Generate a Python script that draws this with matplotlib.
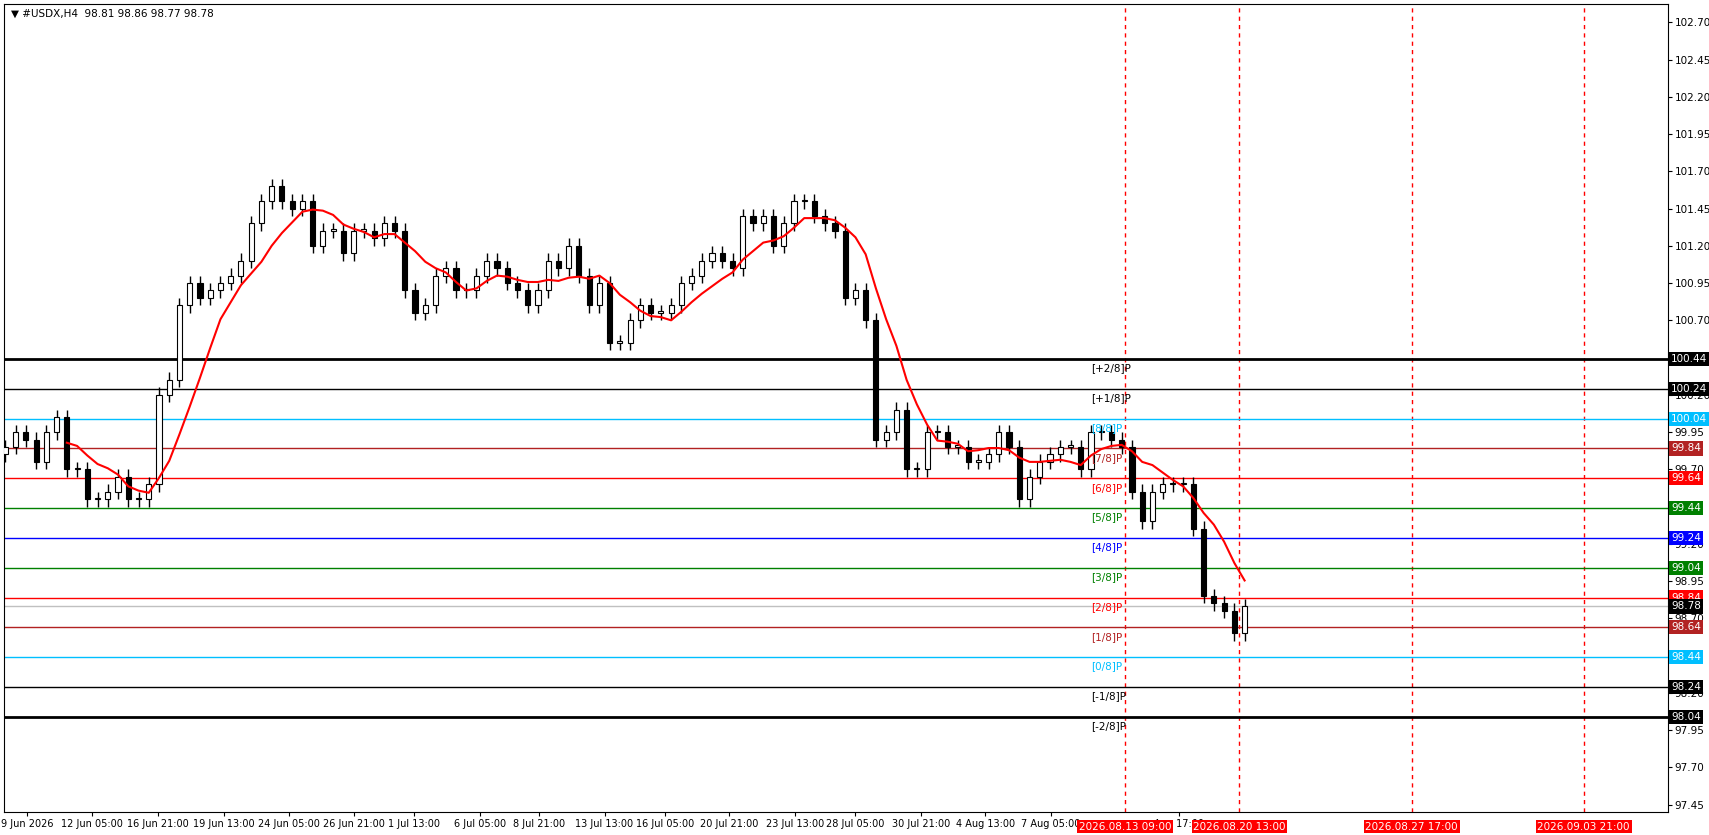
import matplotlib
matplotlib.use("Agg")
import matplotlib.pyplot as plt
import numpy as np

closes = [99.85,99.95,99.9,99.75,99.95,100.05,99.7,99.7,99.5,99.5,99.55,99.65,99.5,99.5,99.6,
          100.2,100.3,100.8,100.95,100.85,100.9,100.95,101.0,101.1,101.35,101.5,101.6,101.5,101.45,101.5,
          101.2,101.3,101.3,101.15,101.3,101.3,101.25,101.35,101.3,100.9,100.75,100.8,101.0,101.05,100.9,
          100.9,101.0,101.1,101.05,100.95,100.9,100.8,100.9,101.1,101.05,101.2,101.0,100.8,100.95,100.55,
          100.55,100.7,100.8,100.75,100.75,100.8,100.95,101.0,101.1,101.15,101.1,101.05,101.4,101.35,101.4,
          101.2,101.35,101.5,101.5,101.4,101.35,101.3,100.85,100.9,100.7,99.9,99.95,100.1,99.7,99.7,
          99.95,99.95,99.85,99.85,99.75,99.75,99.8,99.95,99.85,99.5,99.65,99.75,99.8,99.85,99.85,
          99.7,99.95,99.95,99.9,99.85,99.55,99.35,99.55,99.6,99.6,99.6,99.3,98.85,98.8,98.75,98.6,98.78]
wick = 0.05
levels = [100.44,100.24,100.04,99.84,99.64,99.44,99.24,99.04,98.84,98.64,98.44,98.24,98.04]
level_names = ["[+2/8]P","[+1/8]P","[8/8]P","[7/8]P","[6/8]P","[5/8]P","[4/8]P","[3/8]P",
               "[2/8]P","[1/8]P","[0/8]P","[-1/8]P","[-2/8]P"]
level_colors = ["black","black","#00BFFF","#B22222","red","green","blue","green",
                "red","#B22222","#00BFFF","black","black"]
level_widths = [2,1,1,1,1,1,1,1,1,1,1,1,2]
date_labels = ["9 Jun 2026","12 Jun 05:00","16 Jun 21:00","19 Jun 13:00","24 Jun 05:00","26 Jun 21:00",
               "1 Jul 13:00","6 Jul 05:00","8 Jul 21:00","13 Jul 13:00","16 Jul 05:00","20 Jul 21:00",
               "23 Jul 13:00","28 Jul 05:00","30 Jul 21:00","4 Aug 13:00","7 Aug 05:00","Aug 17:00"]
date_pos = [2.1,8.5,14.9,21.3,27.7,34.0,39.9,46.3,52.1,58.5,64.4,70.7,77.1,83.0,89.4,95.7,102.1,114.6]
vlines = [109.3,120.5,137.3,154.1]
vline_labels = ["2026.08.13 09:00","2026.08.20 13:00","2026.08.27 17:00","2026.09.03 21:00"]
last_price = 98.78

W, H = 1568, 766
fig = plt.figure(figsize=(17.09,8.35), dpi=100)
ax = fig.add_axes([4/W, 1-745/H, 1526/W, 741/H])
c = np.array(closes)
o = np.concatenate([[c[0]-0.05], c[:-1]])
x = np.arange(len(c))
for i in x:
    hi = max(o[i], c[i]) + wick
    lo = min(o[i], c[i]) - wick
    ax.vlines(i, lo, hi, color="black", lw=1, zorder=3)
    b = min(o[i], c[i]); h = max(abs(c[i]-o[i]), 0.01)
    fc = "white" if c[i] >= o[i] else "black"
    ax.add_patch(plt.Rectangle((i-0.25, b), 0.5, h, facecolor=fc, edgecolor="black", lw=0.8, zorder=4))
ma = np.convolve(c, np.ones(7)/7, mode="valid")
ax.plot(x[6:], ma, color="red", lw=1.5, zorder=5)

fs = 7.5
for lv, nm, col, lw in zip(levels, level_names, level_colors, level_widths):
    ax.axhline(lv, color=col, lw=lw, zorder=2)
    ax.text(106.0, lv-0.03, nm, color=col, fontsize=fs, va="top", ha="left", zorder=6)
    ax.text(1.002, lv, f"{lv:.2f}", transform=ax.get_yaxis_transform(), color="white", fontsize=fs,
            va="center", ha="left", bbox=dict(facecolor=col, edgecolor="none", pad=1.5), clip_on=False, zorder=7)
ax.axhline(last_price, color="#C0C0C0", lw=1, zorder=2)
ax.text(1.002, last_price, f"{last_price:.2f}", transform=ax.get_yaxis_transform(), color="white", fontsize=fs,
        va="center", ha="left", bbox=dict(facecolor="black", edgecolor="none", pad=1.5), clip_on=False, zorder=8)
for v, lab in zip(vlines, vline_labels):
    ax.axvline(v, color="red", ls=(0,(3,3)), lw=1, zorder=1)
    ax.text(v, -0.012, lab, transform=ax.get_xaxis_transform(), color="white", fontsize=fs, ha="center", va="top",
            bbox=dict(facecolor="red", edgecolor="none", pad=1.2), clip_on=False, zorder=8)

ax.set_xlim(-0.1, 162.3)
ax.set_ylim(97.40, 102.82)
ax.yaxis.tick_right()
yt = np.round(np.arange(97.45, 102.71, 0.25), 2)
ax.set_yticks(yt)
ax.set_yticklabels([f"{t:.2f}" for t in yt], fontsize=fs)
ax.set_xticks(date_pos)
ax.set_xticklabels(date_labels, fontsize=7)
ax.tick_params(length=3, pad=2)
ax.text(0.004, 0.995, "\u25BC #USDX,H4  98.81 98.86 98.77 98.78", transform=ax.transAxes, fontsize=fs, va="top")
fig.savefig("out.png", dpi=100)
